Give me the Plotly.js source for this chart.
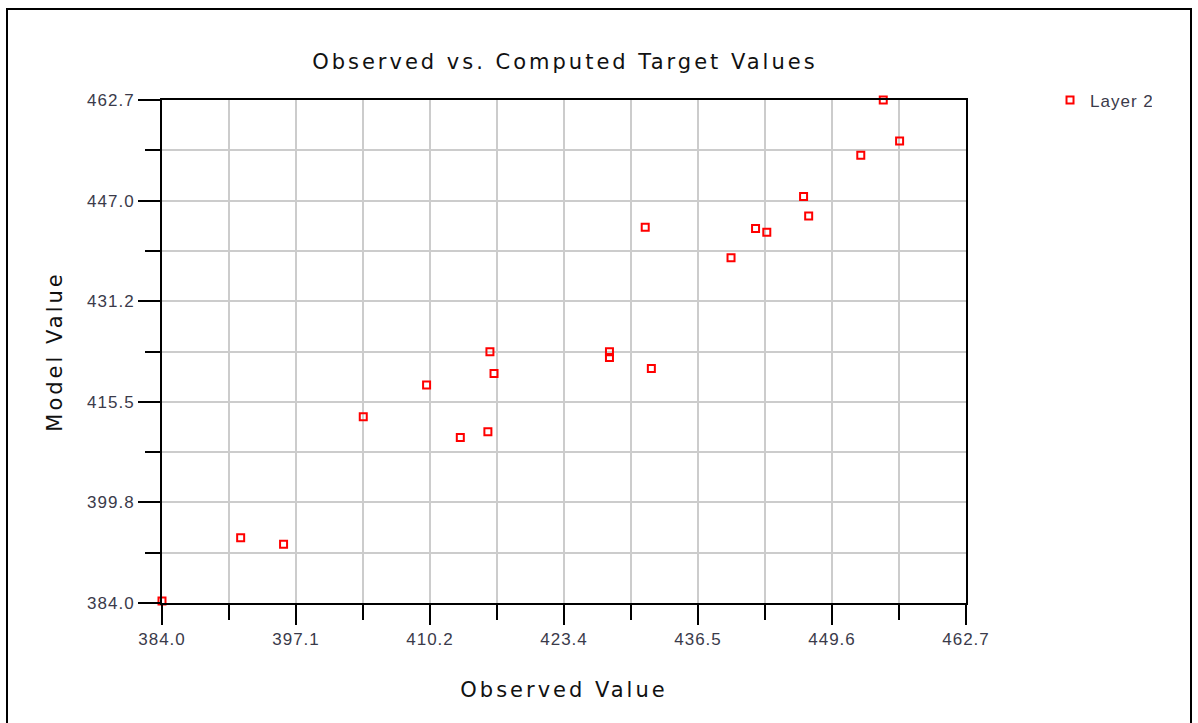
<!DOCTYPE html>
<html>
<head>
<meta charset="utf-8">
<script src="https://cdn.plot.ly/plotly-3.0.1.min.js"></script>
<style>
html,body{margin:0;padding:0;background:#fff;}
#chart{width:1198px;height:723px;}
#chart .gtitle, #chart .xtitle, #chart .ytitle{letter-spacing:3px;}
#chart .xtick text, #chart .ytick text{letter-spacing:1px;}
#chart .legendtext{letter-spacing:1px;}
</style>
</head>
<body>
<div id="chart"></div>
<script>
// Data
const observed = [384.0, 391.7, 395.9, 403.7, 409.9, 413.2, 415.9, 416.1, 416.5, 427.8, 427.8, 431.9, 431.3, 439.7, 442.1, 443.2, 446.8, 447.3, 452.4, 454.6, 456.2];
const modelVals = [384.3, 394.2, 393.2, 413.15, 418.1, 409.9, 410.8, 423.3, 419.9, 423.3, 422.4, 420.7, 442.8, 438.0, 442.6, 442.0, 447.6, 444.55, 454.05, 462.7, 456.3];
const seriesName = "Layer 2";
const xTickLabels = ["384.0", "397.1", "410.2", "423.4", "436.5", "449.6", "462.7"];
const yTickLabels = ["384.0", "399.8", "415.5", "431.2", "447.0", "462.7"];
const axisMin = 384.0, axisMax = 462.7;

const xTickVals = xTickLabels.map((_, i) => axisMin + (axisMax - axisMin) * i / (xTickLabels.length - 1));
const yTickVals = yTickLabels.map((_, i) => axisMin + (axisMax - axisMin) * i / (yTickLabels.length - 1));
const xMinor = xTickVals.slice(0, -1).map((v, i) => (v + xTickVals[i + 1]) / 2);
const yMinor = yTickVals.slice(0, -1).map((v, i) => (v + yTickVals[i + 1]) / 2);

const fontFam = "DejaVu Sans, Verdana, sans-serif";
const tickFont = {family: "Liberation Sans, Arial, sans-serif", size: 17, color: "#3a3a4a"};

const trace = {
  x: observed, y: modelVals, type: "scatter", mode: "markers", name: seriesName,
  cliponaxis: false,
  marker: {symbol: "square-open", size: 7, color: "#ff0000", line: {width: 2, color: "#ff0000"}}
};

const gridColor = "#cccccc";
const commonAxis = {
  range: [axisMin, axisMax], autorange: false, showline: true, mirror: true, linecolor: "#000", linewidth: 2,
  showgrid: true, gridcolor: gridColor, gridwidth: 2, zeroline: false,
  ticks: "outside", tickcolor: "#000", tickwidth: 2, tickmode: "array",
  tickfont: tickFont, automargin: false
};

const layout = {
  width: 1198, height: 723,
  margin: {l: 162, r: 232, t: 100, b: 120},
  paper_bgcolor: "#fff", plot_bgcolor: "#fff",
  showlegend: true,
  title: {text: "Observed vs. Computed Target Values", font: {family: fontFam, size: 21, color: "#111"},
          x: 0.4715, xanchor: "center", y: 1 - 62 / 723, yanchor: "middle", yref: "container", xref: "container"},
  xaxis: Object.assign({}, commonAxis, {
    tickvals: xTickVals, ticktext: xTickLabels, ticklen: 20,
    minor: {tickvals: xMinor, ticklen: 15, tickwidth: 2, tickcolor: "#000", ticks: "outside", showgrid: true, gridcolor: gridColor, gridwidth: 2},
    title: {text: "Observed Value", font: {family: fontFam, size: 21, color: "#111"}, standoff: 34}
  }),
  yaxis: Object.assign({}, commonAxis, {
    tickvals: yTickVals, ticktext: yTickLabels, ticklen: 22,
    minor: {tickvals: yMinor, ticklen: 15, tickwidth: 2, tickcolor: "#000", ticks: "outside", showgrid: true, gridcolor: gridColor, gridwidth: 2},
    title: {text: "Model Value", font: {family: fontFam, size: 21, color: "#111"}, standoff: 24}
  }),
  legend: {x: 1.1045, y: 1.035, xanchor: "left", yanchor: "top", bgcolor: "rgba(0,0,0,0)",
           font: {family: "Liberation Sans, Arial, sans-serif", size: 17, color: "#3a3a4a"}, itemwidth: 30},
  shapes: [{type: "rect", xref: "paper", yref: "paper",
            x0: (7 - 162) / 804, x1: (1191 - 162) / 804, y0: (603 - 740) / 503, y1: (603 - 9) / 503,
            line: {color: "#000", width: 2}, fillcolor: "rgba(0,0,0,0)", layer: "below"}]
};

Plotly.newPlot("chart", [trace], layout, {displayModeBar: false, staticPlot: true});
</script>
</body>
</html>
